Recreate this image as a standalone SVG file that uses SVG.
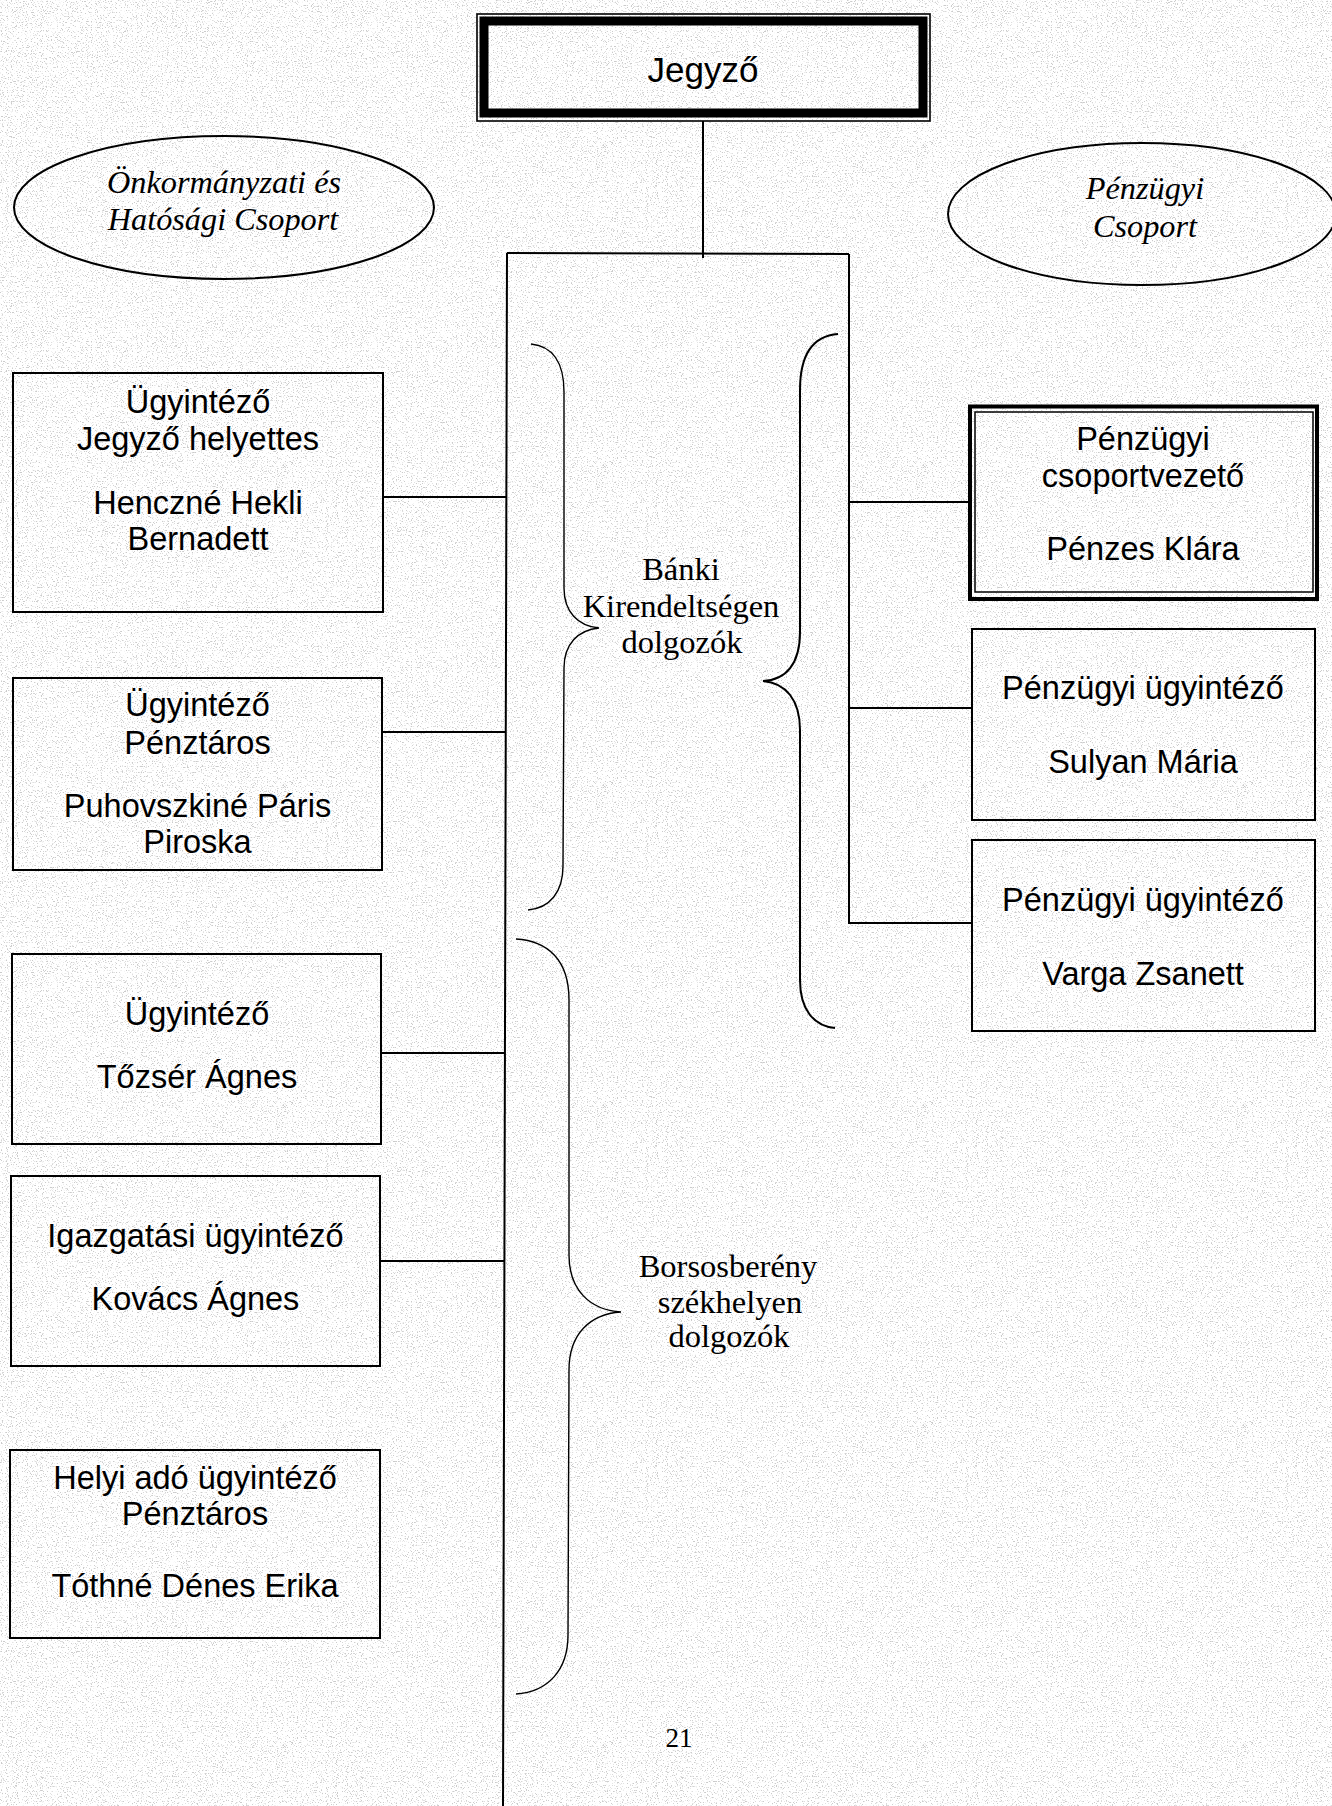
<svg xmlns="http://www.w3.org/2000/svg" width="1332" height="1806" viewBox="0 0 1332 1806">
<style>
.box{fill:none;stroke:#000;stroke-width:2}
.ln{fill:none;stroke:#000;stroke-width:2}
.br{fill:none;stroke:#000;stroke-width:1.4}
.brr{fill:none;stroke:#000;stroke-width:2}
.ell{fill:none;stroke:#000;stroke-width:2}
.s{font-family:"Liberation Sans",Arial,sans-serif;font-size:32.5px;fill:#000;text-anchor:middle}
.it{font-family:"Liberation Serif","Times New Roman",serif;font-style:italic;font-size:32.3px;fill:#000;text-anchor:middle}
.rm{font-family:"Liberation Serif","Times New Roman",serif;font-size:32.5px;fill:#000;text-anchor:middle}
</style>
<defs>
<filter id="grain" x="0" y="0" width="1332" height="1806" filterUnits="userSpaceOnUse">
<feTurbulence type="fractalNoise" baseFrequency="0.8" numOctaves="2" seed="7"/>
<feColorMatrix type="matrix" values="0 0 0 0 0.4  0 0 0 0 0.4  0 0 0 0 0.4  -7 0 0 0 3.0"/>
</filter>
</defs>
<rect width="1332" height="1806" fill="#fff"/>
<rect width="1332" height="1806" fill="#000" filter="url(#grain)" opacity="0.6"/>

<g id="connectors">
<line class="ln" x1="703" y1="121" x2="703" y2="258"/>
<line class="ln" x1="507" y1="253" x2="849" y2="254"/>
<line class="ln" x1="507" y1="253" x2="503" y2="1806"/>
<line class="ln" x1="849" y1="254" x2="849" y2="924"/>
<line class="ln" x1="383" y1="497" x2="506" y2="497"/>
<line class="ln" x1="382" y1="732" x2="506" y2="732"/>
<line class="ln" x1="381" y1="1053" x2="505" y2="1053"/>
<line class="ln" x1="380" y1="1261" x2="504" y2="1261"/>
<line class="ln" x1="849" y1="502" x2="968" y2="502"/>
<line class="ln" x1="849" y1="708" x2="972" y2="708"/>
<line class="ln" x1="849" y1="923" x2="972" y2="923"/>
</g>

<g id="braces">
<path class="br" d="M531 344 C552 346 564 362 564 392 L564 588 C564 612 578 626 599 628 C578 630 564 644 564 668 L563 866 C563 892 550 908 528 910"/>
<path class="br" d="M516 939 C548 941 569 960 569 1000 L569 1255 C569 1290 590 1310 621 1312 C590 1314 569 1334 569 1370 L568 1635 C568 1670 548 1692 516 1694"/>
<path class="brr" d="M838 334 C812 336 800 356 800 390 L800 632 C800 664 786 680 763 681 C786 683 800 700 800 730 L800 980 C800 1010 814 1026 835 1028"/>
</g>

<g id="jegyzo">
<rect x="477" y="14" width="453" height="107" fill="none" stroke="#000" stroke-width="1.6"/>
<rect x="484" y="21" width="439" height="92" fill="none" stroke="#000" stroke-width="9"/>
<text class="s" x="703" y="82" style="font-size:35px">Jegyző</text>
</g>

<g id="onkormanyzati-csoport">
<ellipse class="ell" cx="224" cy="207.5" rx="210" ry="71.5"/>
<text class="it" x="224" y="193">Önkormányzati és</text>
<text class="it" x="223" y="230">Hatósági Csoport</text>
</g>

<g id="penzugyi-csoport">
<ellipse class="ell" cx="1142" cy="214" rx="194" ry="71"/>
<text class="it" x="1145" y="199">Pénzügyi</text>
<text class="it" x="1145" y="237">Csoport</text>
</g>

<g id="henczne">
<rect class="box" x="13" y="373" width="370" height="239"/>
<text class="s" x="198" y="413">Ügyintéző</text>
<text class="s" x="198" y="450">Jegyző helyettes</text>
<text class="s" x="198" y="514">Henczné Hekli</text>
<text class="s" x="198" y="550">Bernadett</text>
</g>

<g id="puhovszkine">
<rect class="box" x="13" y="678" width="369" height="192"/>
<text class="s" x="197.5" y="716">Ügyintéző</text>
<text class="s" x="197.5" y="754">Pénztáros</text>
<text class="s" x="197.5" y="817">Puhovszkiné Páris</text>
<text class="s" x="197.5" y="853">Piroska</text>
</g>

<g id="tozser">
<rect class="box" x="12" y="954" width="369" height="190"/>
<text class="s" x="197" y="1025">Ügyintéző</text>
<text class="s" x="197" y="1088">Tőzsér Ágnes</text>
</g>

<g id="kovacs">
<rect class="box" x="11" y="1176" width="369" height="190"/>
<text class="s" x="195.5" y="1247">Igazgatási ügyintéző</text>
<text class="s" x="195.5" y="1310">Kovács Ágnes</text>
</g>

<g id="tothne">
<rect class="box" x="10" y="1450" width="370" height="188"/>
<text class="s" x="195" y="1489">Helyi adó ügyintéző</text>
<text class="s" x="195" y="1525">Pénztáros</text>
<text class="s" x="195" y="1597">Tóthné Dénes Erika</text>
</g>

<g id="penzes">
<rect x="970" y="406.5" width="347" height="192.5" fill="none" stroke="#000" stroke-width="4"/>
<rect x="975" y="412" width="338" height="180" fill="none" stroke="#000" stroke-width="1.5"/>
<text class="s" x="1143" y="450">Pénzügyi</text>
<text class="s" x="1143" y="487">csoportvezető</text>
<text class="s" x="1143" y="560">Pénzes Klára</text>
</g>

<g id="sulyan">
<rect class="box" x="972" y="629" width="343" height="191"/>
<text class="s" x="1143" y="699">Pénzügyi ügyintéző</text>
<text class="s" x="1143" y="773">Sulyan Mária</text>
</g>

<g id="varga">
<rect class="box" x="972" y="840" width="343" height="191"/>
<text class="s" x="1143" y="911">Pénzügyi ügyintéző</text>
<text class="s" x="1143" y="985">Varga Zsanett</text>
</g>

<g id="banki-label">
<text class="rm" x="681" y="580">Bánki</text>
<text class="rm" x="681" y="617">Kirendeltségen</text>
<text class="rm" x="682" y="653">dolgozók</text>
</g>

<g id="borsosbereny-label">
<text class="rm" x="728" y="1277">Borsosberény</text>
<text class="rm" x="730" y="1313">székhelyen</text>
<text class="rm" x="729" y="1347">dolgozók</text>
</g>

<text x="679" y="1747" style="font-family:'Liberation Serif','Times New Roman',serif;font-size:27px;text-anchor:middle">21</text>
</svg>
